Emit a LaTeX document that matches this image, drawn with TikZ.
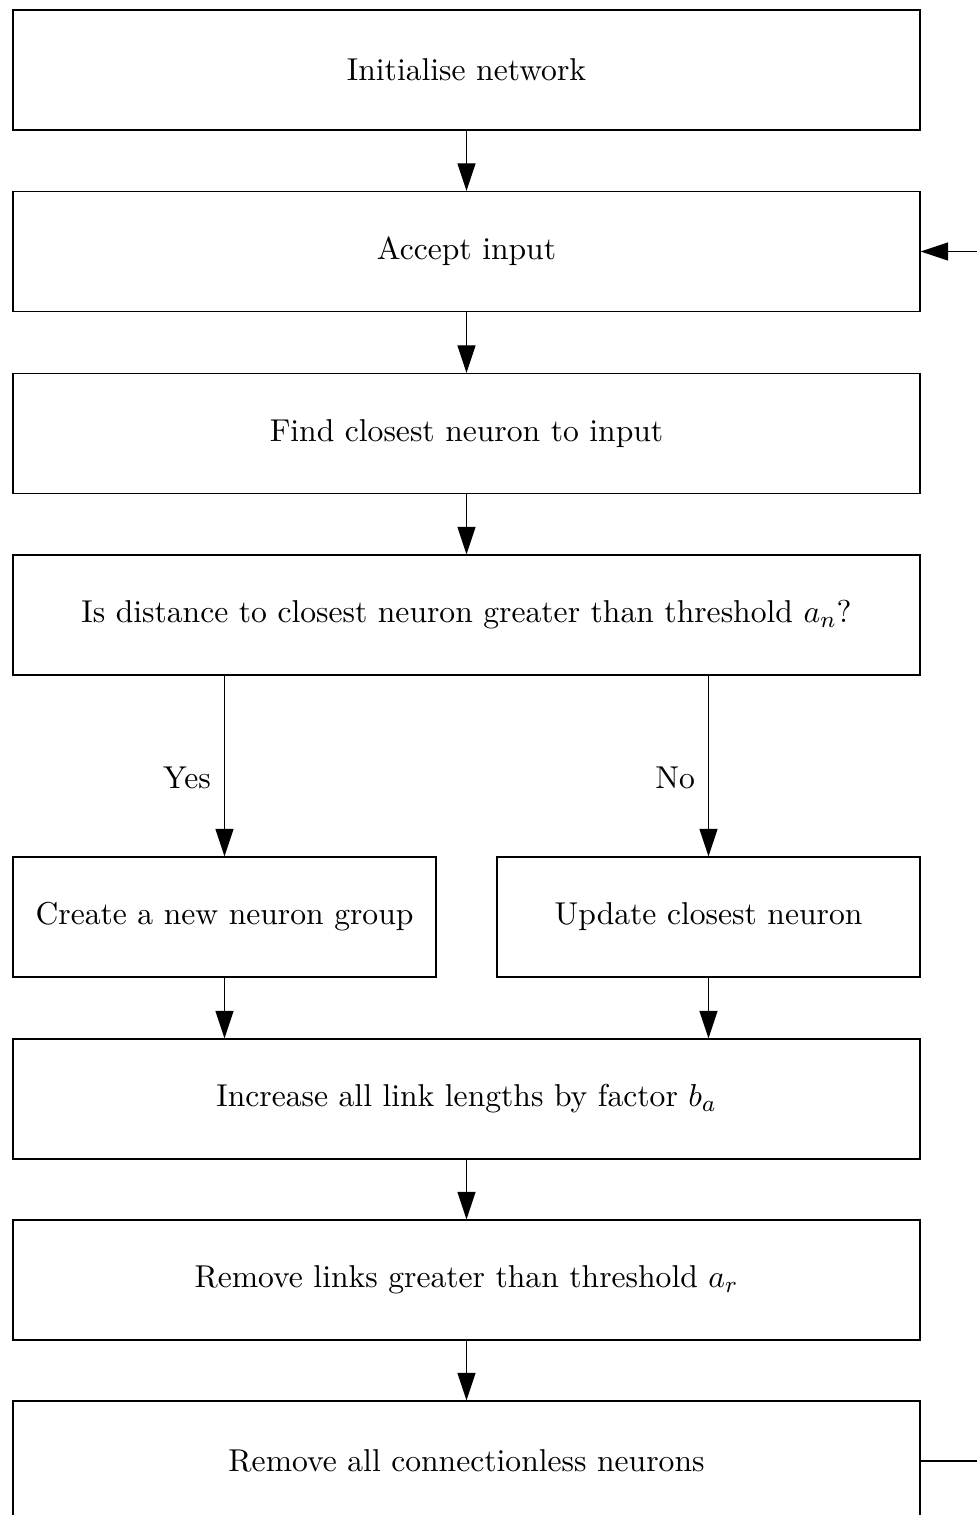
\documentclass[tikz,border=0pt]{standalone}
\usetikzlibrary{arrows.meta}
\def\u{0.3448pt}
\begin{document}
\begin{tikzpicture}[x=\u,y=-\u,font=\fontsize{10.9pt}{13pt}\selectfont,
  stepbox/.style={draw,line width=0.45pt,minimum width={907*\u},minimum height={120*\u},inner sep=0pt},
  halfbox/.style={stepbox,minimum width={423*\u}},
  flow/.style={draw,line width=0.45pt,-{Triangle[width=6.2pt,length=9.5pt]}},
  branch/.style={left,inner sep=4.5pt,pos=0.565}]
\useasboundingbox (0,0) rectangle (977,1515);
\clip (0,0) rectangle (977,1515);
\node[stepbox] (init) at (466.5,70) {Initialise network};
\node[stepbox] (acc) at (466.5,251.5) {Accept input};
\node[stepbox] (find) at (466.5,433.5) {Find closest neuron to input};
\node[stepbox] (dec) at (466.5,615) {Is distance to closest neuron greater than threshold $a_n$?};
\node[halfbox] (yes) at (224.5,917) {Create a new neuron group};
\node[halfbox] (no) at (708.5,917) {Update closest neuron};
\node[stepbox] (inc) at (466.5,1099) {Increase all link lengths by factor $b_a$};
\node[stepbox] (rmv) at (466.5,1280) {Remove links greater than threshold $a_r$};
\node[stepbox] (rmn) at (466.5,1461) {Remove all connectionless neurons};
\draw[flow] (init) -- (acc);
\draw[flow] (acc) -- (find);
\draw[flow] (find) -- (dec);
\draw[flow] (yes.north |- dec.south) -- node[branch]{Yes} (yes.north);
\draw[flow] (no.north |- dec.south) -- node[branch]{No} (no.north);
\draw[flow] (yes.south) -- (yes.south |- inc.north);
\draw[flow] (no.south) -- (no.south |- inc.north);
\draw[flow] (inc) -- (rmv);
\draw[flow] (rmv) -- (rmn);
\draw[flow] (rmn.east) -- ++(90,0) |- (acc.east);
\end{tikzpicture}
\end{document}
